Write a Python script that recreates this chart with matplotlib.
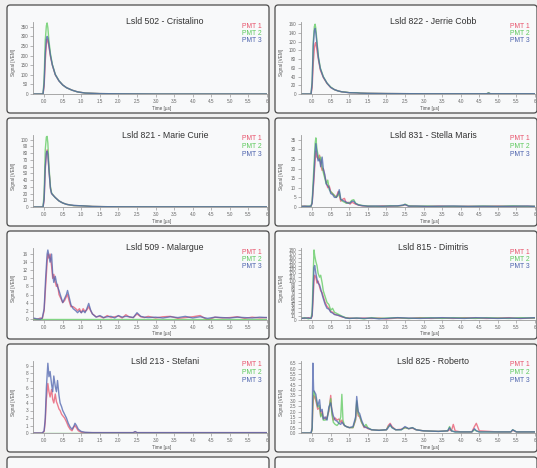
import matplotlib.pyplot as plt
from matplotlib.patches import FancyBboxPatch

plt.rcParams['font.family'] = ['Liberation Sans', 'DejaVu Sans']

# ---- data ------------------------------------------------------------------
titles = ['Lsld 502 - Cristalino', 'Lsld 822 - Jerrie Cobb',
          'Lsld 821 - Marie Curie', 'Lsld 831 - Stella Maris',
          'Lsld 509 - Malargue', 'Lsld 815 - Dimitris',
          'Lsld 213 - Stefani', 'Lsld 825 - Roberto']
pmt_names = ['PMT 1', 'PMT 2', 'PMT 3']

t1 = [-0.3, -0.03, 0.0, 0.03, 0.06, 0.08, 0.1, 0.13, 0.17, 0.22, 0.3, 0.4, 0.5, 0.6,
      0.75, 0.9, 1.1, 1.5, 2.0, 3.0, 4.0, 5.0, 6.0]
a1 = [0, 0, 40, 170, 260, 285, 280, 245, 195, 150, 100, 68, 47, 33, 20, 11, 5, 2, 1, 0, 0, 0, 0]
a2 = [0, 0, 80, 280, 355, 370, 345, 275, 210, 155, 102, 69, 47, 33, 20, 11, 5, 2, 1, 0, 0, 0, 0]
a3 = [0, 0, 55, 210, 285, 300, 292, 255, 200, 152, 101, 68, 47, 33, 20, 11, 5, 2, 1, 0, 0, 0, 0]

t2 = [-0.3, -0.03, 0.0, 0.03, 0.06, 0.08, 0.1, 0.13, 0.17, 0.22, 0.3, 0.4, 0.5, 0.6, 0.7,
      0.8, 0.9, 1.0, 1.2, 1.3, 1.5, 2.0, 3.0, 4.0, 4.7, 4.75, 4.8, 5.0, 6.0]
b1 = [0, 0, 15, 70, 105, 115, 118, 100, 78, 55, 38, 24, 15, 10, 7, 5, 4, 3, 2.5, 2, 1.5, 1,
      0.5, 0.5, 0.5, 2, 0.5, 0.5, 0.5]
b2 = [0, 0, 30, 120, 155, 160, 150, 120, 85, 60, 40, 25, 16, 10, 7, 5, 4.5, 3, 3, 2, 1.5, 1,
      0.5, 0.5, 0.5, 3, 0.5, 0.5, 0.5]
b3 = [0, 0, 25, 110, 145, 150, 140, 115, 82, 58, 39, 25, 15, 10, 7, 5, 4, 3, 2.5, 2, 1.5, 1,
      0.5, 0.5, 0.5, 2, 0.5, 0.5, 0.5]

t3 = [-0.3, -0.03, 0.0, 0.03, 0.06, 0.08, 0.1, 0.13, 0.17, 0.2, 0.25, 0.3, 0.4, 0.5, 0.6,
      0.7, 0.8, 0.9, 1.0, 1.1, 1.3, 1.6, 2.0, 3.0, 4.0, 5.0, 6.0]
c1 = [0, 0, 10, 55, 80, 85, 80, 55, 28, 20, 17, 14, 9, 6, 4, 3, 2, 2, 1.8, 1.5, 0.8, 0.5,
      0.3, 0.2, 0.2, 0.2, 0.2]
c2 = [0, 0, 20, 85, 104, 105, 95, 60, 30, 21, 17, 14, 9, 6, 4, 3, 2, 2, 1.8, 1.5, 0.8, 0.5,
      0.3, 0.2, 0.2, 0.2, 0.2]
c3 = [0, 0, 12, 60, 80, 83, 78, 54, 27, 20, 17, 14, 9, 6, 4, 3, 2.5, 2, 1.8, 1.5, 0.8, 0.5,
      0.3, 0.2, 0.2, 0.2, 0.2]

t4 = [-0.3, -0.2, -0.1, -0.03, 0.0, 0.04, 0.08, 0.1, 0.13, 0.16, 0.2, 0.23, 0.27, 0.3, 0.34,
      0.38, 0.42, 0.46, 0.5, 0.55, 0.6, 0.65, 0.7, 0.73, 0.77, 0.82, 0.87, 0.92, 0.97, 1.02,
      1.07, 1.12, 1.17, 1.25, 1.35, 1.5, 1.7, 1.9, 2.1, 2.3, 2.45, 2.5, 2.6, 2.8, 3.1, 3.4,
      3.8, 4.2, 4.6, 5.0, 5.4, 5.8, 6.0]
d1 = [0.3, 0.5, 0.2, 0.4, 2, 12, 24, 29, 26, 25, 27, 22, 19, 20, 16, 13, 10, 11, 8, 7, 6, 5,
      8, 6, 3, 4, 4.5, 2, 2.5, 1.5, 2.5, 2, 1.5, 1, 0.6, 0.4, 0.3, 0.6, 0.4, 0.5, 0.8, 1.2,
      0.5, 0.4, 0.3, 0.5, 0.3, 0.4, 0.3, 0.5, 0.3, 0.4, 0.3]
d2 = [0.4, 0.3, 0.5, 0.3, 3, 18, 33, 36, 30, 27, 24, 26, 21, 18, 15, 12, 14, 9, 8, 7, 6, 5,
      6, 8, 4, 3, 2.5, 2, 2, 2.5, 3.5, 3.8, 2, 1.2, 0.8, 0.5, 0.4, 0.3, 0.7, 0.5, 0.9, 1.5,
      0.6, 0.4, 0.5, 0.3, 0.4, 0.3, 0.5, 0.3, 0.6, 0.3, 0.4]
d3 = [0.3, 0.4, 0.3, 0.5, 2, 14, 28, 33, 28, 24, 25, 21, 26, 20, 17, 12, 11, 10, 7, 6.5, 5,
      5, 7, 9, 4, 3.5, 3, 2.5, 2, 2, 3, 3, 1.8, 1, 0.7, 0.4, 0.5, 0.4, 0.5, 0.6, 1, 1.3, 0.4,
      0.5, 0.3, 0.4, 0.5, 0.3, 0.4, 0.3, 0.4, 0.5, 0.3]

t5 = [-0.3, -0.2, -0.1, -0.05, 0.0, 0.04, 0.08, 0.1, 0.13, 0.16, 0.2, 0.23, 0.26, 0.3, 0.33,
      0.36, 0.4, 0.45, 0.5, 0.55, 0.6, 0.63, 0.67, 0.72, 0.78, 0.85, 0.9, 0.95, 1.0, 1.05,
      1.1, 1.15, 1.2, 1.25, 1.3, 1.4, 1.5, 1.6, 1.7, 1.8, 1.9, 2.0, 2.1, 2.2, 2.3, 2.4, 2.5,
      2.6, 2.7, 2.8, 3.0, 3.2, 3.4, 3.6, 3.8, 4.0, 4.2, 4.4, 4.6, 4.8, 5.0, 5.2, 5.4, 5.6,
      5.8, 6.0]
e1 = [0.1, -0.2, 0.2, 0, 2, 8, 14, 16, 15, 16, 13, 10, 11, 9, 8, 8.5, 6, 5, 4, 4.5, 5.5, 6,
      4.5, 3, 3, 2.5, 2, 2.5, 1.5, 2.5, 1.8, 2.2, 3, 2, 1.2, 0.5, 0.6, 0.2, 0.8, 0.3, 0.5,
      0.7, 0.2, 1, 0.4, 0.3, 1.2, 0.5, 0.3, 0.6, 0.2, 0.5, 0.6, 0.1, 0.3, 0.5, 0.8, -0.3,
      0.4, 0.2, 0.3, 0.5, 0.1, 0.4, 0.2, 0.3]
e2_t = [-0.3, 6.0]
e2 = [0, 0]
e3 = [0.2, 0, -0.1, 0.2, 2.5, 10, 16, 17, 15.5, 14, 16, 11, 9, 10.5, 9, 8, 7, 5.5, 4, 5, 6,
      7, 5.5, 3.5, 2.5, 2, 1.5, 2, 1.5, 2, 1.5, 2.5, 3.8, 2.2, 1.2, 0.4, 0.8, 0.3, 0.5, 0.6,
      0.2, 0.8, 0.4, 0.6, 0.5, 0.3, 1.5, 0.6, 0.4, 0.3, 0.4, 0.2, 0.5, 0.3, 0.6, 0.2, 0.5,
      0.1, 0.4, 0.3, 0.2, 0.4, 0.3, 0.2, 0.4, 0.3]

t6 = [-0.3, -0.2, -0.1, -0.03, 0.0, 0.03, 0.05, 0.07, 0.1, 0.13, 0.16, 0.2, 0.23, 0.27, 0.3,
      0.35, 0.4, 0.45, 0.5, 0.55, 0.6, 0.7, 0.8, 0.9, 1.0, 1.2, 1.4, 1.6, 1.8, 2.0, 2.3, 2.6,
      2.9, 3.2, 3.5, 3.8, 4.1, 4.4, 4.7, 5.0, 5.3, 5.6, 6.0]
f1 = [5, 4, 6, 4, 10, 60, 100, 115, 110, 95, 100, 85, 75, 70, 60, 45, 35, 30, 22, 20, 15, 12,
      8, 6, 5, 4, 5, 4, 5, 3, 5, 4, 6, 4, 5, 4, 6, 5, 4, 5, 6, 4, 5]
f2 = [4, 6, 3, 5, 20, 120, 180, 165, 150, 140, 120, 110, 115, 95, 75, 60, 45, 40, 25, 30, 20,
      15, 10, 6, 4, 5, 3, 6, 4, 5, 6, 4, 5, 6, 4, 6, 5, 4, 6, 5, 4, 6, 5]
f3 = [4, 5, 5, 4, 12, 80, 135, 140, 120, 105, 95, 90, 80, 65, 55, 40, 30, 28, 20, 18, 14, 12,
      9, 5, 4, 5, 4, 5, 3, 4, 6, 5, 4, 5, 6, 5, 4, 6, 5, 4, 5, 4, 6]

t7 = [-0.3, -0.05, 0.0, 0.03, 0.06, 0.1, 0.13, 0.16, 0.2, 0.23, 0.26, 0.3, 0.33, 0.36, 0.4,
      0.43, 0.47, 0.5, 0.55, 0.6, 0.65, 0.7, 0.75, 0.8, 0.83, 0.87, 0.92, 1.0, 1.1, 1.3, 1.5,
      2.0, 2.4, 2.45, 2.5, 3.0, 4.0, 5.0, 6.0]
g1 = [0, 0, 0.2, 1.5, 4.5, 6.6, 5.5, 4.8, 5.8, 4.5, 4, 5.2, 4.2, 3.8, 3.2, 3, 2.5, 2.3, 2,
      1.5, 0.9, 0.5, 0.3, 0.8, 1, 0.7, 0.3, 0.1, 0.05, 0.05, 0.05, 0.05, 0.05, 0.15, 0.05,
      0.05, 0.05, 0.05, 0.05]
g2_t = [-0.3, 6.0]
g2 = [0, 0]
g3 = [0, 0, 0.3, 2, 6, 9.3, 7.5, 8.2, 6.5, 5.5, 7.6, 6.2, 5.5, 7, 5, 4, 3.5, 3, 2.5, 2, 1.3,
      0.8, 0.5, 0.9, 1.3, 1, 0.5, 0.2, 0.1, 0.05, 0.05, 0.05, 0.05, 0.2, 0.05, 0.05, 0.05,
      0.05, 0.05]

t8 = [-0.3, -0.03, 0.0, 0.02, 0.04, 0.07, 0.1, 0.15, 0.2, 0.23, 0.27, 0.3, 0.35, 0.4, 0.45,
      0.5, 0.53, 0.57, 0.62, 0.67, 0.72, 0.77, 0.8, 0.83, 0.87, 0.92, 1.0, 1.1, 1.17, 1.2,
      1.24, 1.28, 1.33, 1.4, 1.45, 1.5, 1.6, 1.8, 2.0, 2.05, 2.1, 2.15, 2.25, 2.4, 2.5, 2.6,
      2.7, 2.8, 3.0, 3.4, 3.65, 3.7, 3.75, 3.8, 3.85, 4.0, 4.3, 4.37, 4.42, 4.5, 5.0, 5.35,
      5.4, 5.5, 6.0]
h1 = [0, 0, 0.3, 2.5, 3.5, 3.3, 3.0, 2.2, 2.4, 1.6, 2.0, 1.4, 1.3, 1.5, 2.0, 3.5, 2.0, 1.2,
      1.4, 1.2, 1.3, 1.0, 1.2, 0.9, 0.7, 0.6, 0.5, 0.5, 1.2, 2.8, 1.6, 1.5, 1.0, 0.5, 0.6,
      0.4, 0.3, 0.25, 0.3, 0.7, 0.9, 0.6, 0.3, 0.35, 0.5, 0.4, 0.45, 0.3, 0.2, 0.15, 0.2,
      0.3, 0.2, 0.8, 0.2, 0.1, 0.1, 0.6, 0.9, 0.2, 0.1, 0.1, 0.25, 0.1, 0.1]
h2 = [0, 0, 0.3, 3.0, 3.9, 3.6, 3.2, 2.4, 2.6, 1.5, 1.8, 1.2, 1.2, 1.3, 2.2, 3.2, 1.8, 1.0,
      0.8, 0.7, 0.9, 1.5, 3.6, 1.2, 0.7, 0.6, 0.5, 0.5, 1.3, 3.0, 1.8, 1.6, 1.0, 0.6, 0.8,
      0.5, 0.3, 0.25, 0.3, 0.6, 0.7, 0.5, 0.3, 0.3, 0.5, 0.4, 0.5, 0.3, 0.2, 0.15, 0.2, 0.6,
      0.2, 0.15, 0.1, 0.1, 0.1, 0.3, 0.2, 0.1, 0.1, 0.1, 0.3, 0.1, 0.1]
h3 = [0, 0, 0.5, 6.5, 4, 3.8, 3.6, 2.5, 3.1, 2, 2.2, 1.3, 1.5, 1.2, 2.4, 2.8, 2.2, 1.6, 1.2,
      1.1, 0.9, 0.8, 1.0, 0.9, 0.7, 0.6, 0.5, 0.6, 1.5, 3.4, 2.0, 1.8, 1.2, 0.6, 0.5, 0.45,
      0.3, 0.25, 0.3, 0.5, 0.8, 0.5, 0.3, 0.3, 0.6, 0.4, 0.5, 0.3, 0.2, 0.15, 0.2, 0.5, 0.2,
      0.15, 0.1, 0.1, 0.1, 0.4, 0.2, 0.1, 0.1, 0.1, 0.3, 0.1, 0.1]

# y-axis tick steps and top of each panel
y_steps = [50, 20, 10, 5, 2, 10, 1, 0.5]
y_tops = [350, 160, 100, 35, 16, 180, 9, 6.5]
y_lims = [375, 165, 107, 37.5, 17.5, 185, 9.6, 6.7]

traces = [
    [(t1, a1), (t1, a2), (t1, a3)],
    [(t2, b1), (t2, b2), (t2, b3)],
    [(t3, c1), (t3, c2), (t3, c3)],
    [(t4, d1), (t4, d2), (t4, d3)],
    [(t5, e1), (e2_t, e2), (t5, e3)],
    [(t6, f1), (t6, f2), (t6, f3)],
    [(t7, g1), (g2_t, g2), (t7, g3)],
    [(t8, h1), (t8, h2), (t8, h3)],
]

colors = ['#e8536b', '#5cc95c', '#4c62ad']
x_ticks = [0, 0.5, 1, 1.5, 2, 2.5, 3, 3.5, 4, 4.5, 5, 5.5, 6]
x_labels = ['0.0', '0.5', '1.0', '1.5', '2.0', '2.5', '3.0', '3.5', '4.0', '4.5',
            '5.0', '5.5', '6']

# ---- layout (pixels) -------------------------------------------------------
W, H = 537, 468
fig = plt.figure(figsize=(W / 100, H / 100), dpi=100)
fig.patch.set_facecolor('#f0f0f0')


def fx(x):
    return x / W


def fy(y):
    return 1 - y / H


col_x = [7, 275]
row_y = [5, 118, 231, 344, 457]
box_w, box_h = 262, 108

for by in row_y:
    for bx in col_x:
        box = FancyBboxPatch((fx(bx), fy(by + box_h)), box_w / W, box_h / H,
                             boxstyle='round,pad=0,rounding_size=0.006',
                             mutation_aspect=W / H, transform=fig.transFigure,
                             facecolor='#f8f9fa', edgecolor='#4a4a4a', linewidth=0.9,
                             zorder=-5)
        fig.add_artist(box)

for i, title in enumerate(titles):
    bx = col_x[i % 2]
    by = row_y[i // 2]
    ax = fig.add_axes([fx(bx + 26), fy(by + 89), 234 / W, 72 / H])
    ax.set_facecolor('none')
    ax.set_zorder(2)
    for j, (tt, vv) in enumerate(traces[i]):
        ax.plot(tt, vv, color=colors[j], lw=1.0, alpha=0.75)

    ax.set_xlim(-0.3, 6)
    ax.set_ylim(min(0, min(min(v) for _, v in traces[i])), y_lims[i])
    ax.set_xticks(x_ticks)
    ax.set_xticklabels(x_labels)
    n = int(round(y_tops[i] / y_steps[i]))
    yt = [k * y_steps[i] for k in range(n + 1)]
    ax.set_yticks(yt)
    if y_steps[i] < 1:
        ax.set_yticklabels([f'{v:.1f}' for v in yt])
    else:
        ax.set_yticklabels([f'{v:g}' for v in yt])

    for s in ['top', 'right']:
        ax.spines[s].set_visible(False)
    for s in ['left', 'bottom']:
        ax.spines[s].set_color('#9a9a9a')
        ax.spines[s].set_linewidth(0.6)
    ax.tick_params(length=2, width=0.5, color='#9a9a9a', labelsize=3.3,
                   labelcolor='#666666', pad=1.5)

    fig.text(fx(bx + 158), fy(by + 17), title, ha='center', va='center',
             fontsize=6.3, color='#333333')
    for j, name in enumerate(pmt_names):
        fig.text(fx(bx + 255), fy(by + 21 + 7.5 * j), name, ha='right', va='center',
                 fontsize=4.9, color=colors[j])
    fig.text(fx(bx + 7), fy(by + 58), 'Signal [VEM]', rotation=90, ha='center',
             va='center', fontsize=3.3, color='#555555')
    fig.text(fx(bx + 155), fy(by + 103), 'Time [µs]', ha='center', va='center',
             fontsize=3.3, color='#555555')

fig.savefig('out.png', dpi=100, facecolor=fig.get_facecolor())
